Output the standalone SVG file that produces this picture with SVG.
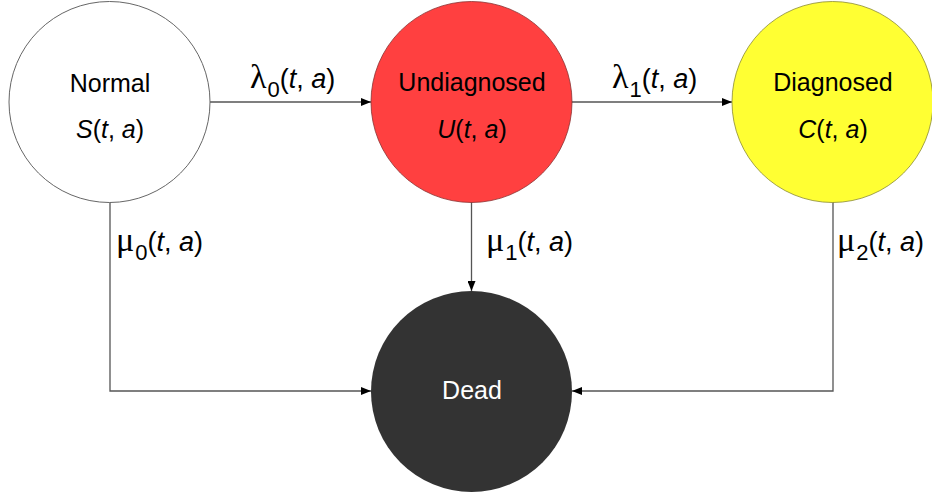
<svg xmlns="http://www.w3.org/2000/svg" width="932" height="498" viewBox="0 0 932 498">
<style>
.t{font-family:"Liberation Sans",Arial,sans-serif;font-size:25px;fill:#000;text-anchor:middle}
.lb{font-family:"Liberation Sans",Arial,sans-serif;font-size:27px;fill:#000}
.g{font-family:"Liberation Serif","Times New Roman",serif;font-size:34px}
.sub{font-size:22px}
.i{font-style:italic}
.c{stroke:#555;stroke-width:1.3;fill:none}
</style>
<defs>
<marker id="ah" viewBox="0 0 10 8" refX="10" refY="4" markerWidth="10" markerHeight="8" markerUnits="userSpaceOnUse" orient="auto">
<path d="M0,0 L10,4 L0,8 Z" fill="#000"/>
</marker>
</defs>
<rect width="932" height="498" fill="#fff"/>
<g id="connectors">
<path class="c" d="M210,102 H371" marker-end="url(#ah)"/>
<path class="c" d="M572,102 H732" marker-end="url(#ah)"/>
<path class="c" d="M471.5,202 V291" marker-end="url(#ah)"/>
<path class="c" d="M110,202 V391 H371" marker-end="url(#ah)"/>
<path class="c" d="M833,202 V391 H572" marker-end="url(#ah)"/>
<text class="lb" x="250" y="88"><tspan class="g">λ</tspan><tspan class="sub" dx="1" dy="9">0</tspan><tspan dy="-9">(</tspan><tspan class="i">t</tspan>, <tspan class="i">a</tspan>)</text>
<text class="lb" x="612" y="88"><tspan class="g">λ</tspan><tspan class="sub" dx="1" dy="9">1</tspan><tspan dy="-9">(</tspan><tspan class="i">t</tspan>, <tspan class="i">a</tspan>)</text>
<text class="lb" x="116" y="251"><tspan class="g">μ</tspan><tspan class="sub" dx="1" dy="9">0</tspan><tspan dy="-9">(</tspan><tspan class="i">t</tspan>, <tspan class="i">a</tspan>)</text>
<text class="lb" x="486" y="251"><tspan class="g">μ</tspan><tspan class="sub" dx="1" dy="9">1</tspan><tspan dy="-9">(</tspan><tspan class="i">t</tspan>, <tspan class="i">a</tspan>)</text>
<text class="lb" x="837" y="251"><tspan class="g">μ</tspan><tspan class="sub" dx="1" dy="9">2</tspan><tspan dy="-9">(</tspan><tspan class="i">t</tspan>, <tspan class="i">a</tspan>)</text>
</g>
<g id="normal">
<circle cx="109.5" cy="102" r="100.5" fill="#fff" stroke="#666" stroke-width="1"/>
<text class="t" x="110" y="92">Normal</text>
<text class="t" x="110" y="138"><tspan class="i">S</tspan>(<tspan class="i">t</tspan>, <tspan class="i">a</tspan>)</text>
</g>
<g id="undiagnosed">
<circle cx="471.5" cy="102" r="100.5" fill="#FF4040" stroke="#8a3030" stroke-width="0.8"/>
<text class="t" x="472" y="91">Undiagnosed</text>
<text class="t" x="472" y="138"><tspan class="i">U</tspan>(<tspan class="i">t</tspan>, <tspan class="i">a</tspan>)</text>
</g>
<g id="diagnosed">
<circle cx="832.5" cy="102" r="100.5" fill="#FFFF33" stroke="#8a8a30" stroke-width="0.8"/>
<text class="t" x="833" y="91">Diagnosed</text>
<text class="t" x="833" y="138"><tspan class="i">C</tspan>(<tspan class="i">t</tspan>, <tspan class="i">a</tspan>)</text>
</g>
<g id="dead">
<circle cx="471.5" cy="391.5" r="100.5" fill="#333333"/>
<text class="t" x="472" y="399" style="fill:#fff">Dead</text>
</g>
</svg>
